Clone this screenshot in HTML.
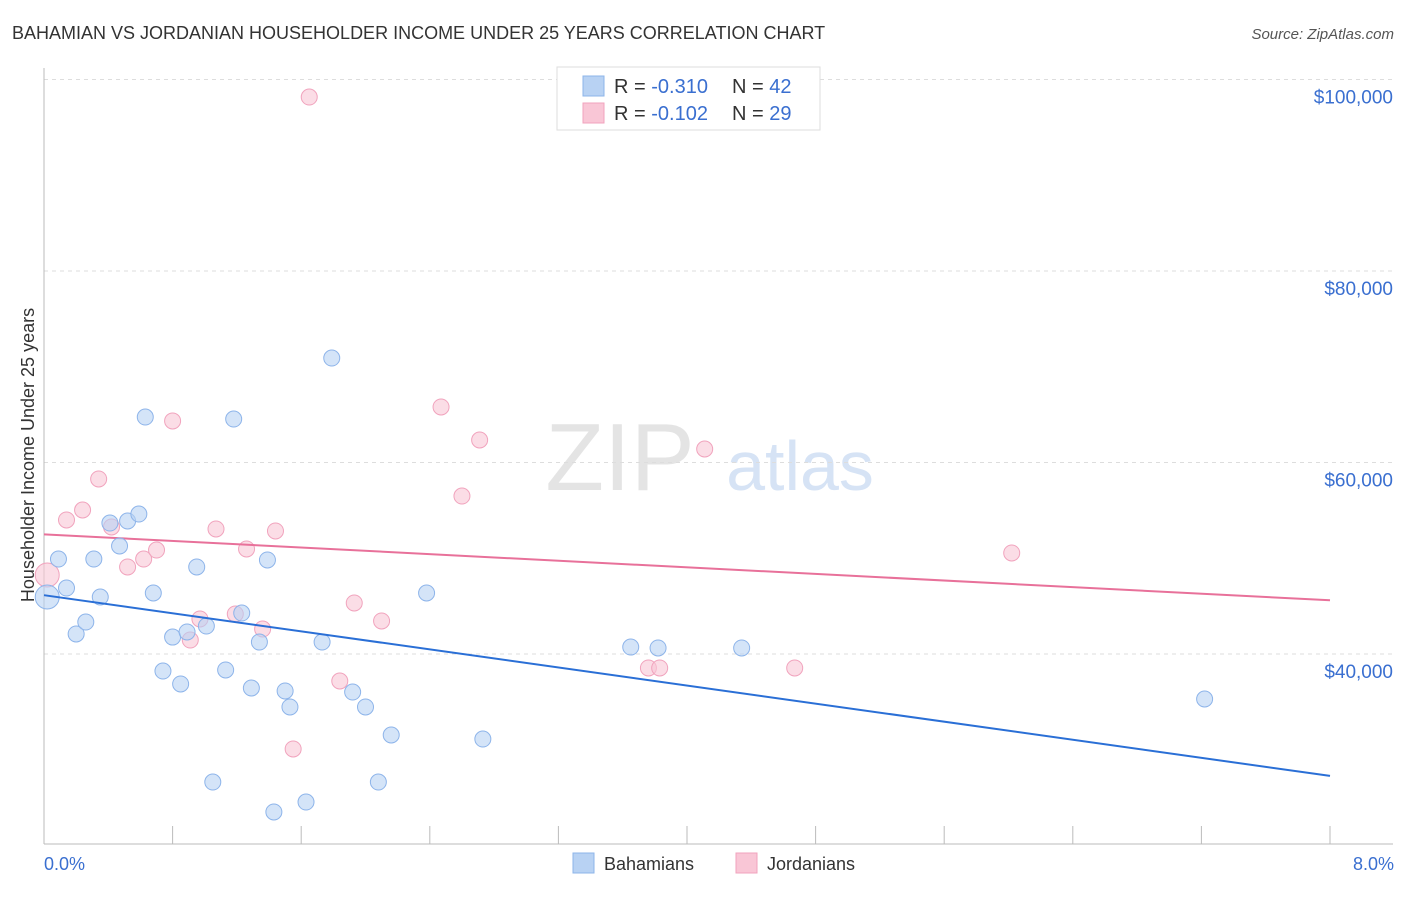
<!DOCTYPE html>
<html><head><meta charset="utf-8"><style>
body{margin:0;background:#fff;font-family:"Liberation Sans",sans-serif;}
svg text{font-family:"Liberation Sans",sans-serif;}
</style></head><body>
<svg id="chart" width="1406" height="892" xmlns="http://www.w3.org/2000/svg">
<text x="12" y="39" font-size="18" fill="#333">BAHAMIAN VS JORDANIAN HOUSEHOLDER INCOME UNDER 25 YEARS CORRELATION CHART</text>
<text x="1394" y="39" font-size="15" fill="#555" font-style="italic" text-anchor="end">Source: ZipAtlas.com</text>
<text x="620" y="490" font-size="96" fill="#e4e4e4" font-family="Liberation Serif" text-anchor="middle">ZIP</text>
<text x="800" y="490" font-size="70" fill="#d6e3f5" text-anchor="middle">atlas</text>
<g id="grid"></g>
<g id="axes"></g>
<g id="marks"></g>
<text transform="translate(34,455) rotate(-90)" font-size="18" fill="#333" text-anchor="middle">Householder Income Under 25 years</text>
<text x="44" y="870" font-size="18" fill="#3a6fd0">0.0%</text>
<text x="1394" y="870" font-size="18" fill="#3a6fd0" text-anchor="end">8.0%</text>
<g>
<rect x="557" y="67" width="263" height="63" fill="#fff" stroke="#ddd"/>
<rect x="583" y="76" width="21" height="20" fill="#b8d2f3" stroke="#8db4ea"/>
<rect x="583" y="103" width="21" height="20" fill="#f9c6d6" stroke="#f1a3bd"/>
<text x="614" y="93" font-size="20" fill="#333">R = <tspan fill="#3a6fd0">-0.310</tspan><tspan x="732">N = </tspan><tspan fill="#3a6fd0">42</tspan></text>
<text x="614" y="120" font-size="20" fill="#333">R = <tspan fill="#3a6fd0">-0.102</tspan><tspan x="732">N = </tspan><tspan fill="#3a6fd0">29</tspan></text>
</g>
<g>
<rect x="573" y="853" width="21" height="20" fill="#b8d2f3" stroke="#8db4ea"/>
<text x="604" y="870" font-size="18" fill="#333">Bahamians</text>
<rect x="736" y="853" width="21" height="20" fill="#f9c6d6" stroke="#f1a3bd"/>
<text x="767" y="870" font-size="18" fill="#333">Jordanians</text>
</g>
</svg>
<script>
const blueX=[0.02,0.09,0.14,0.20,0.26,0.31,0.35,0.41,0.47,0.52,0.59,0.63,0.68,0.74,0.80,0.85,0.89,0.95,1.01,1.05,1.13,1.18,1.23,1.29,1.34,1.39,1.43,1.50,1.53,1.63,1.73,1.79,1.92,2.00,2.08,2.16,2.38,2.73,3.65,3.82,4.34,7.22];
const blueY=[45950,49920,46890,42090,43340,49920,45950,53680,51280,53890,54620,64750,46370,38220,41770,36870,42300,49090,42920,26630,38330,64540,44280,36450,41250,49820,23500,36140,34470,24540,41250,70910,36030,34470,26630,31540,46370,31120,40730,40630,40630,35300];
const pinkX=[0.02,0.14,0.24,0.34,0.42,0.52,0.62,0.70,0.80,0.91,0.97,1.07,1.19,1.26,1.36,1.44,1.55,1.65,1.84,1.93,2.10,2.47,2.60,2.71,3.76,3.83,4.11,4.67,6.02];
const pinkY=[48250,54000,55040,58280,53270,49090,49920,50860,64340,41460,43660,53060,44180,50970,42610,52850,30080,98170,37180,45330,43450,65800,56500,62350,38540,38540,61410,38540,50550];
const yTicks=[40000,60000,80000,100000];
const yTickLabels=["$40,000","$60,000","$80,000","$100,000"];
const xTicks=[0,0.8,1.6,2.4,3.2,4.0,4.8,5.6,6.4,7.2,8.0];
const NS="http://www.w3.org/2000/svg";
const X=v=>44+v/8*1286;
const Y=v=>654-(v-40000)*191.5/20000;
function mk(tag,attrs,parent){const e=document.createElementNS(NS,tag);for(const k in attrs)e.setAttribute(k,attrs[k]);parent.appendChild(e);return e;}
const grid=document.getElementById('grid'),axes=document.getElementById('axes'),marks=document.getElementById('marks');
yTicks.forEach((t,i)=>{
 const l=mk('line',{x1:44,x2:1393,y1:Y(t),y2:Y(t),stroke:'#ddd','stroke-dasharray':'4,4'},grid);
 
 
 const tx=mk('text',{x:1393,y:Y(t)+24,'font-size':19,fill:'#3a6fd0','text-anchor':'end'},grid);
 tx.textContent=yTickLabels[i];
 
 
});
const ya=mk('line',{x1:44,x2:44,y1:68,y2:844,stroke:'#bbb'},axes);


const xa=mk('line',{x1:44,x2:1393,y1:844,y2:844,stroke:'#bbb'},axes);


xTicks.forEach(t=>{
 const l=mk('line',{x1:X(t),x2:X(t),y1:826,y2:844,stroke:'#bbb'},axes);
 
 
});
function reg(xs,ys){const n=xs.length;let mx=0,my=0;for(let i=0;i<n;i++){mx+=xs[i];my+=ys[i];}mx/=n;my/=n;let sxy=0,sxx=0;for(let i=0;i<n;i++){sxy+=(xs[i]-mx)*(ys[i]-my);sxx+=(xs[i]-mx)**2;}const b=sxy/sxx;return [my-b*mx,b];}
function series(xs,ys,fill,stroke,line,name){
 xs.forEach((x,i)=>{
  const r=i===0?12:8;
  const c=mk('circle',{cx:X(x),cy:Y(ys[i]),r:r,fill:fill,stroke:stroke,'stroke-width':1,'fill-opacity':0.6},marks);
  
  
 });
 const [a,b]=reg(xs,ys);
 const l=mk('line',{x1:X(0),y1:Y(a),x2:X(8),y2:Y(a+b*8),stroke:line,'stroke-width':2},marks);
 
 
}
series(pinkX,pinkY,'#f9c6d6','#f1a3bd','#e8719a','jordanian');
series(blueX,blueY,'#b8d2f3','#8db4ea','#2a6fd6','bahamian');
</script>
</body></html>
